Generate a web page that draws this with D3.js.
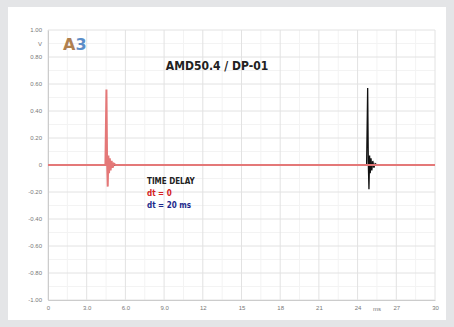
<!DOCTYPE html>
<html>
<head>
<meta charset="utf-8">
<script src="https://cdn.jsdelivr.net/npm/d3@7"></script>
<style>
  body { margin: 0; background: #e4e5e7; }
  svg { display: block; font-family: "Liberation Sans", Arial, sans-serif; }
</style>
</head>
<body>
<div id="chart"></div>
<script>
// impulse responses, time in ms, amplitude in V
var redTimes  = [0, 4.45, 4.53, 4.58, 4.63, 4.68, 4.73, 4.79, 4.85, 4.93, 5.01, 5.11, 5.25, 30];
var redValues = [0, 0, 0.56, 0.03, -0.16, 0.07, -0.06, 0.05, -0.04, 0.03, -0.02, 0.01, 0, 0];
var blackTimes  = [0, 24.70, 24.78, 24.83, 24.88, 24.93, 24.98, 25.04, 25.10, 25.18, 25.26, 25.36, 25.50, 30];
var blackValues = [0, 0, 0.57, 0.02, -0.18, 0.07, -0.06, 0.05, -0.04, 0.03, -0.02, 0.01, 0, 0];

var xTicks = [0, 3, 6, 9, 12, 15, 18, 21, 24, 27, 30];
var xTickLabels = ["0", "3.0", "6.0", "9.0", "12", "15", "18", "21", "24", "27", "30"];
var yTicks = [1, 0.8, 0.6, 0.4, 0.2, 0, -0.2, -0.4, -0.6, -0.8, -1];
var yTickLabels = ["1.00", "0.80", "0.60", "0.40", "0.20", "0", "-0.20", "-0.40", "-0.60", "-0.80", "-1.00"];

var legendLines = ["TIME DELAY", "dt = 0", "dt = 20 ms"];
var legendColors = ["#222", "#d42020", "#1c2a8c"];

var width = 454, height = 327;
var margin = {top: 30, right: 19, bottom: 27, left: 48};

var svg = d3.select('#chart').append('svg')
    .attr('width', width)
    .attr('height', height);

// white panel
svg.append('rect')
    .attr('x', 8).attr('y', 7)
    .attr('width', 438).attr('height', 313)
    .attr('fill', '#fff');

var x = d3.scaleLinear()
    .domain([0, 30])
    .range([margin.left, width - margin.right]);

var y = d3.scaleLinear()
    .domain([-1, 1])
    .range([height - margin.bottom, margin.top]);

// minor grid
var grid = svg.append('g').attr('class', 'grid');
grid.selectAll('line.vminor')
  .data(d3.range(1.5, 30, 3))
  .enter().append('line')
    .attr('x1', x).attr('x2', x)
    .attr('y1', y(1)).attr('y2', y(-1))
    .attr('stroke', '#f3f3f3');
grid.selectAll('line.hminor')
  .data(d3.range(-0.9, 1, 0.2))
  .enter().append('line')
    .attr('x1', x(0)).attr('x2', x(30))
    .attr('y1', y).attr('y2', y)
    .attr('stroke', '#f3f3f3');
// major grid
grid.selectAll('line.vmajor')
  .data(xTicks)
  .enter().append('line')
    .attr('x1', x).attr('x2', x)
    .attr('y1', y(1)).attr('y2', y(-1))
    .attr('stroke', '#e2e2e2');
grid.selectAll('line.hmajor')
  .data(yTicks)
  .enter().append('line')
    .attr('x1', x(0)).attr('x2', x(30))
    .attr('y1', y).attr('y2', y)
    .attr('stroke', '#e2e2e2');

// axes
var xAxis = d3.axisBottom(x)
    .tickValues(xTicks)
    .tickSize(0)
    .tickPadding(6)
    .tickFormat(function(d, i) { return xTickLabels[i]; });
var gx = svg.append('g')
    .attr('transform', 'translate(0,' + y(-1) + ')')
    .call(xAxis);
gx.select('.domain').attr('stroke', '#ccc');
gx.selectAll('text').attr('fill', '#777').attr('font-size', 6);

var yAxis = d3.axisLeft(y)
    .tickValues(yTicks)
    .tickSize(0)
    .tickPadding(6)
    .tickFormat(function(d, i) { return yTickLabels[i]; });
var gy = svg.append('g')
    .attr('transform', 'translate(' + x(0) + ',0)')
    .call(yAxis);
gy.select('.domain').attr('stroke', '#ccc');
gy.selectAll('text').attr('fill', '#777').attr('font-size', 6);

// unit labels
svg.append('text')
    .attr('x', x(0) - 6).attr('y', (y(1) + y(0.8)) / 2 + 2)
    .attr('text-anchor', 'end')
    .attr('font-size', 6).attr('fill', '#777')
    .text('V');
svg.append('text')
    .attr('x', (x(24) + x(27)) / 2).attr('y', y(-1) + 11)
    .attr('text-anchor', 'middle')
    .attr('font-size', 6).attr('fill', '#777')
    .text('ms');

// traces
var line = d3.line()
    .x(function(d) { return x(d[0]); })
    .y(function(d) { return y(d[1]); });

svg.append('path')
    .datum(d3.zip(blackTimes, blackValues))
    .attr('d', line)
    .attr('fill', 'none')
    .attr('stroke', '#111')
    .attr('stroke-width', 1.3);

svg.append('path')
    .datum(d3.zip(redTimes, redValues))
    .attr('d', line)
    .attr('fill', 'none')
    .attr('stroke', '#e47878')
    .attr('stroke-width', 2);

// title
svg.append('text')
    .attr('x', 217).attr('y', 70)
    .attr('text-anchor', 'middle')
    .attr('font-family', '"Liberation Sans Narrow", "DejaVu Sans Condensed", sans-serif')
    .attr('font-weight', 'bold')
    .attr('font-size', 12)
    .attr('fill', '#222')
    .text('AMD50.4 / DP-01');

// logo
var logo = svg.append('text')
    .attr('x', 63).attr('y', 50)
    .attr('font-family', '"DejaVu Sans", sans-serif')
    .attr('font-weight', 'bold')
    .attr('font-size', 16);
logo.append('tspan').attr('fill', '#b0804f').text('A');
logo.append('tspan').attr('fill', '#5b8dc8').text('3');

// legend
svg.selectAll('text.legend')
  .data(legendLines)
  .enter().append('text')
    .attr('class', 'legend')
    .attr('x', 147)
    .attr('y', function(d, i) { return 184 + i * 12; })
    .attr('font-family', '"Liberation Sans Narrow", "DejaVu Sans Condensed", sans-serif')
    .attr('font-weight', 'bold')
    .attr('font-size', 8)
    .attr('fill', function(d, i) { return legendColors[i]; })
    .text(function(d) { return d; });
</script>
</body>
</html>
